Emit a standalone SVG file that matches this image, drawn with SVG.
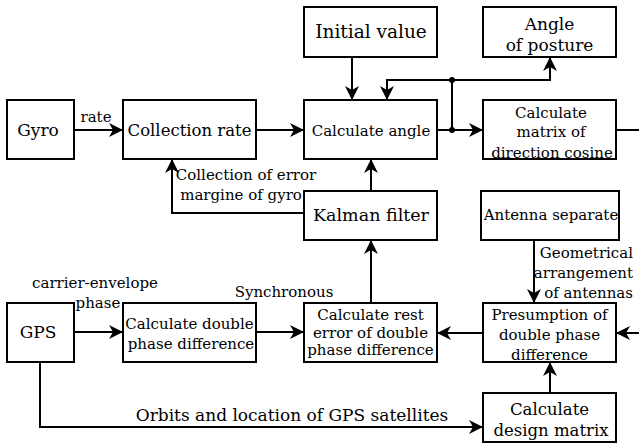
<svg xmlns="http://www.w3.org/2000/svg" width="639" height="443" viewBox="0 0 639 443">
<defs>
<style>
.box{fill:#fff;stroke:#000;stroke-width:2}
.ln{fill:none;stroke:#000;stroke-width:2}
text{font-family:"DejaVu Serif","Liberation Serif",serif;fill:#000;text-anchor:middle}
.b{font-size:17px}
.s{font-size:15px}
</style>
<marker id="ah" viewBox="0 0 14 14" refX="13" refY="7" markerWidth="14" markerHeight="14" markerUnits="userSpaceOnUse" orient="auto">
<path d="M0,0 L14,7 L0,14 L4,7 Z" fill="#000"/>
</marker>
</defs>
<rect width="639" height="443" fill="#fff"/>
<g id="connectors">
<path class="ln" d="M74,130 H122" marker-end="url(#ah)"/>
<path class="ln" d="M256,130 H303" marker-end="url(#ah)"/>
<path class="ln" d="M352,57 V99" marker-end="url(#ah)"/>
<path class="ln" d="M437,130 H482" marker-end="url(#ah)"/>
<path class="ln" d="M452,130 V80 H387 V99" marker-end="url(#ah)"/>
<path class="ln" d="M452,80 H550 V58" marker-end="url(#ah)"/>
<circle cx="452" cy="130" r="3" fill="#000"/>
<circle cx="452" cy="80" r="3" fill="#000"/>
<path class="ln" d="M616,130 H639"/>
<path class="ln" d="M371,191 V160" marker-end="url(#ah)"/>
<path class="ln" d="M304,213 H172 V160" marker-end="url(#ah)"/>
<path class="ln" d="M371,303 V241" marker-end="url(#ah)"/>
<path class="ln" d="M534,240 V302" marker-end="url(#ah)"/>
<path class="ln" d="M483,333 H438" marker-end="url(#ah)"/>
<path class="ln" d="M639,333 H617" marker-end="url(#ah)"/>
<path class="ln" d="M550,393 V363" marker-end="url(#ah)"/>
<path class="ln" d="M74,332 H122" marker-end="url(#ah)"/>
<path class="ln" d="M256,332 H303" marker-end="url(#ah)"/>
<path class="ln" d="M40,362 V427 H482" marker-end="url(#ah)"/>
<text class="s" x="96" y="122">rate</text>
<text class="s" x="246" y="180">Collection of error</text>
<text class="s" x="241" y="200">margine of gyro</text>
<text class="s" x="633" y="258" style="text-anchor:end">Geometrical</text>
<text class="s" x="633" y="278" style="text-anchor:end">arrangement</text>
<text class="s" x="633" y="298" style="text-anchor:end">of antennas</text>
<text class="s" x="95" y="288">carrier-envelope</text>
<text class="s" x="98" y="308">phase</text>
<text class="s" x="284" y="297">Synchronous</text>
<text class="b" x="292" y="421">Orbits and location of GPS satellites</text>
</g>
<g id="gyro"><rect class="box" x="7" y="100" width="67" height="59"/><text class="b" x="38" y="136">Gyro</text></g>
<g id="collection-rate"><rect class="box" x="123" y="100" width="133" height="59"/><text class="b" x="189.5" y="136" style="font-size:16.5px">Collection rate</text></g>
<g id="initial-value"><rect class="box" x="304" y="7" width="133" height="50"/><text class="b" x="371" y="38" style="font-size:18.5px">Initial value</text></g>
<g id="calculate-angle"><rect class="box" x="304" y="100" width="133" height="59"/><text class="s" x="371" y="136">Calculate angle</text></g>
<g id="angle-of-posture"><rect class="box" x="483" y="7" width="133" height="50"/><text class="b" x="549.5" y="30">Angle</text><text class="b" x="549.5" y="51">of posture</text></g>
<g id="calculate-matrix"><rect class="box" x="483" y="100" width="133" height="59"/><text class="s" x="551" y="118">Calculate</text><text class="s" x="551" y="137">matrix of</text><text class="s" x="552" y="158">direction cosine</text></g>
<g id="kalman-filter"><rect class="box" x="304" y="191" width="133" height="49"/><text class="b" x="371" y="221" style="font-size:17.5px">Kalman filter</text></g>
<g id="antenna-separate"><rect class="box" x="481" y="191" width="138" height="49"/><text class="s" x="551" y="220">Antenna separate</text></g>
<g id="gps"><rect class="box" x="7" y="303" width="67" height="59"/><text class="b" x="38" y="338">GPS</text></g>
<g id="calc-double-phase"><rect class="box" x="123" y="303" width="133" height="59"/><text class="s" x="189.5" y="329">Calculate double</text><text class="s" x="191" y="349">phase difference</text></g>
<g id="calc-rest-error"><rect class="box" x="304" y="303" width="133" height="59"/><text class="s" x="370.5" y="320">Calculate rest</text><text class="s" x="370.5" y="338">error of double</text><text class="s" x="370.5" y="355">phase difference</text></g>
<g id="presumption"><rect class="box" x="483" y="303" width="133" height="59"/><text class="s" x="549.5" y="320">Presumption of</text><text class="s" x="549.5" y="340">double phase</text><text class="s" x="549.5" y="360">difference</text></g>
<g id="design-matrix"><rect class="box" x="483" y="393" width="133" height="49"/><text class="b" x="549.5" y="415" style="font-size:16.5px">Calculate</text><text class="b" x="551" y="436" style="font-size:16.5px">design matrix</text></g>
</svg>
